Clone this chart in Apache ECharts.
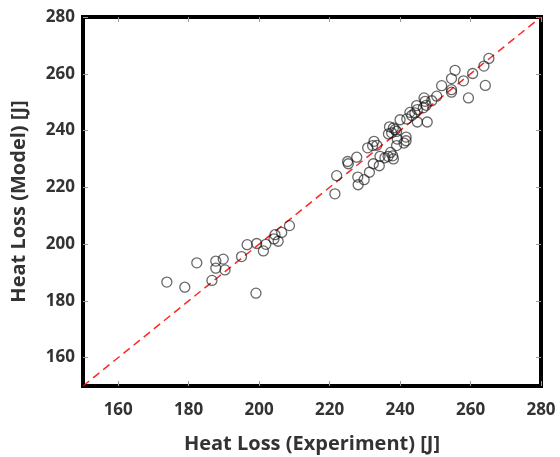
<!DOCTYPE html>
<html><head><meta charset="utf-8">
<script src="https://cdn.jsdelivr.net/npm/echarts@6/dist/echarts.min.js"></script>
<style>html,body{margin:0;padding:0;background:#fff}#c{width:560px;height:457px}</style>
</head><body><div id="c"></div>
<script>
const xTicks = [160, 180, 200, 220, 240, 260, 280];
const yTicks = [160, 180, 200, 220, 240, 260, 280];
const experiment = [173.8,178.9,182.3,186.6,187.7,189.8,187.7,190.3,195.0,196.6,199.3,201.2,201.9,199.1,204.2,204.5,205.4,206.4,208.6,
 221.5,222.0,225.1,225.3,227.7,228.0,228.1,229.8,231.3,230.8,232.2,232.6,232.4,234.1,234.3,235.7,236.6,237.9,237.3,238.1,237.6,238.1,237.0,239.0,239.2,239.0,241.7,241.7,241.1,240.0,241.9,242.8,243.3,244.2,244.9,244.7,246.6,247.4,247.1,246.8,249.0,250.4,244.9,247.7,251.8,254.6,254.6,254.6,255.6,258.0,260.6,263.8,265.2,264.2,259.4,233.4,238.6,236.7];
const model = [186.6,184.8,193.4,187.2,194.0,194.7,191.5,190.9,195.6,199.8,200.2,197.6,199.9,182.7,201.8,203.3,201.0,204.1,206.5,
 217.7,224.1,229.1,228.3,230.6,223.6,220.9,222.7,225.3,233.9,234.7,236.2,228.3,227.6,230.9,230.4,230.9,231.1,232.3,230.0,239.2,240.9,241.3,239.7,237.0,234.7,237.7,236.4,235.6,243.8,244.1,246.4,245.3,246.2,247.4,248.8,248.0,248.9,250.3,251.5,250.5,252.1,243.0,243.0,255.8,254.4,253.5,258.3,261.2,257.5,260.1,262.7,265.4,255.9,251.5,234.8,240.3,238.8];
const refLine = [[150,150],[280,280]];
const points = experiment.map((v,i)=>[v, model[i]]);

const font = '"Open Sans", "DejaVu Sans", sans-serif';
const chart = echarts.init(document.getElementById('c'));
const tickStyle = {show:true, inside:true, length:5, lineStyle:{color:'#999', width:1}};
chart.setOption({
  animation:false,
  grid:{left:83, right:19, top:17, bottom:71, show:true, borderColor:'#000', borderWidth:4, backgroundColor:'#fff', outerBoundsMode:'none', containLabel:false},
  xAxis:[{
    type:'value', min:150, max:280, position:'bottom',
    axisLine:{show:false}, splitLine:{show:false},
    axisTick:Object.assign({customValues:xTicks}, tickStyle),
    axisLabel:{customValues:xTicks, color:'#333', fontFamily:font, fontWeight:'bold', fontSize:17, margin:16},
    name:'Heat Loss (Experiment) [J]', nameLocation:'middle', nameGap:48,
    nameTextStyle:{color:'#333', fontFamily:font, fontWeight:'bold', fontSize:20}
  },{
    type:'value', min:150, max:280, position:'top',
    axisLine:{show:false}, splitLine:{show:false},
    axisTick:Object.assign({customValues:xTicks}, tickStyle),
    axisLabel:{show:false}
  }],
  yAxis:[{
    type:'value', min:150, max:280, position:'left',
    axisLine:{show:false}, splitLine:{show:false},
    axisTick:Object.assign({customValues:yTicks}, tickStyle),
    axisLabel:{customValues:yTicks, color:'#333', fontFamily:font, fontWeight:'bold', fontSize:17, margin:8},
    name:'Heat Loss (Model) [J]', nameLocation:'middle', nameGap:54,
    nameTextStyle:{color:'#333', fontFamily:font, fontWeight:'bold', fontSize:20}
  },{
    type:'value', min:150, max:280, position:'right',
    axisLine:{show:false}, splitLine:{show:false},
    axisTick:Object.assign({customValues:yTicks}, tickStyle),
    axisLabel:{show:false}
  }],
  series:[{
    type:'line', data:refLine, showSymbol:false, symbol:'none', silent:true,
    lineStyle:{color:'rgba(255,0,0,0.85)', width:1.5, type:[8,5]}, z:1
  },{
    type:'scatter', data:points, symbol:'circle', symbolSize:10,
    itemStyle:{color:'rgba(0,0,0,0)', borderColor:'rgba(20,20,20,0.8)', borderWidth:1.3}, z:2
  }]
});
</script></body></html>
